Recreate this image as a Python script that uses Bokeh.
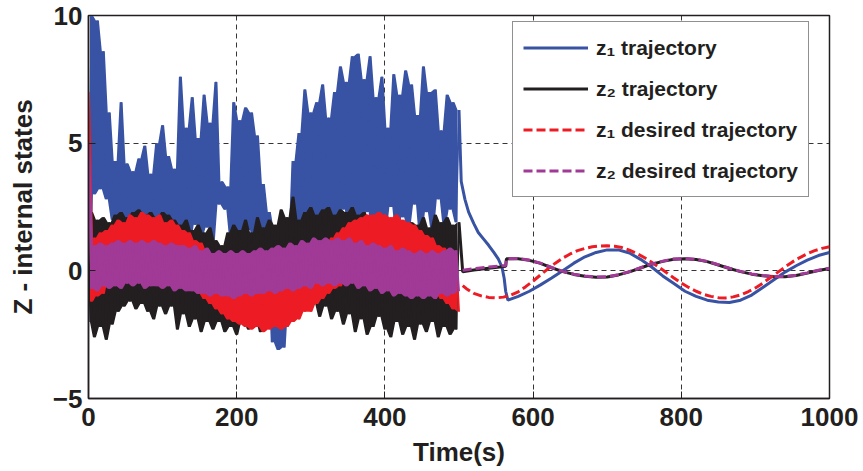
import numpy as np
from bokeh.plotting import figure
from bokeh.models import Range1d, FixedTicker, Legend, LegendItem
from bokeh.embed import file_html
from bokeh.resources import INLINE

# ---------------- data ----------------
x_ticks = [0, 200, 400, 600, 800, 1000]
y_ticks = [-5, 0, 5, 10]
noisy_step = 4  # s between samples of the noisy phase (0..500 s)

z1_noisy = [-2.0, 10.0, 3.0, 9.8, 3.2, 8.6, 2.8, 6.2, 2.0, 4.3,
            1.2, 6.6, 0.5, 4.2, 1.0, 3.9, 0.8, 4.4, 1.5, 4.9,
            0.6, 3.8, 1.2, 5.0, 0.9, 5.7, 1.4, 4.5, 0.7, 4.0,
            1.1, 7.6, 1.6, 5.6, 1.0, 6.8, 1.8, 5.2, 1.3, 6.9,
            1.7, 5.8, 1.0, 7.4, 2.6, 3.5, 2.4, 3.3, 1.2, 6.6,
            1.5, 5.9, 0.8, 6.4, 1.6, 6.2, 0.9, 5.3, 1.1, 3.4,
            0.4, 2.3, -2.8, 1.6, -3.1, 1.4, -3.0, 1.2, -1.0, 4.3,
            0.8, 5.4, 1.3, 7.1, 0.9, 6.2, 1.5, 6.6, 1.0, 7.3,
            1.8, 6.0, 2.2, 7.0, 1.4, 8.0, 2.4, 7.4, 1.2, 8.4,
            2.0, 8.5, 1.6, 7.5, 2.3, 8.4, 1.1, 6.8, 2.0, 7.6,
            1.4, 5.6, 2.5, 7.7, 1.3, 6.9, 2.1, 7.85, 1.6, 7.3,
            2.6, 6.1, 1.2, 8.0, 2.3, 7.0, 1.5, 7.1, 2.8, 5.5,
            1.7, 6.9, 2.4, 6.6, 1.9, 6.3]

z2_noisy = [-2.0, 2.3, -2.6, 2.0, -2.2, 2.1, -2.7, 1.9, -2.1, 2.2,
            -1.6, 2.3, -1.4, 2.1, -1.2, 2.3, -1.5, 2.4, -1.3, 2.2,
            -1.6, 2.3, -1.9, 2.1, -1.4, 2.3, -1.7, 2.2, -1.4, 2.0,
            -2.3, 1.8, -1.7, 2.0, -2.2, 1.6, -1.9, 1.8, -2.4, 1.5,
            -2.0, 1.7, -2.3, 1.2, -2.0, 1.0, -2.4, 1.5, -2.2, 1.8,
            -2.5, 1.6, -2.0, 2.0, -2.3, 1.5, -1.9, 2.1, -2.4, 1.7,
            -1.8, 2.0, -2.2, 1.8, -1.5, 2.4, -1.7, 2.1, -1.3, 2.9,
            -1.6, 2.0, -1.2, 2.3, -1.5, 2.5, -1.3, 2.2, -1.8, 2.4,
            -1.4, 2.5, -1.9, 2.2, -1.6, 2.4, -2.1, 2.3, -1.7, 2.5,
            -2.4, 2.2, -1.9, 2.3, -2.5, 2.0, -2.2, 2.1, -1.8, 1.9,
            -2.3, 2.0, -2.6, 1.7, -2.0, 2.0, -2.5, 1.6, -2.2, 1.9,
            -2.7, 1.8, -2.1, 2.1, -2.4, 1.7, -2.0, 2.2, -2.6, 1.9,
            -2.2, 2.1, -2.5, 1.8, -2.3, 1.9]

z1d_noisy = [7.0, -1.2, 1.3, -1.0, 1.5, -0.9, 1.6, -0.3, 1.8, -0.2,
             2.0, -0.1, 1.9, 0.2, 2.2, 0.0, 2.1, 0.3, 2.3, 0.1,
             2.2, 0.2, 2.1, 0.0, 2.2, 0.1, 1.9, -0.1, 2.0, -0.3,
             1.8, -0.2, 1.6, -0.5, 1.5, -0.7, 1.2, -0.9, 1.1, -1.1,
             0.8, -1.3, 0.6, -1.5, 0.5, -1.7, 0.2, -1.9, 0.1, -2.0,
             -0.1, -2.1, -0.3, -2.2, -0.2, -2.3, -0.4, -2.2, -0.3, -2.4,
             -0.5, -2.3, -0.3, -2.2, -0.4, -2.3, -0.2, -2.2, -0.1, -2.0,
             0.0, -1.9, 0.2, -1.6, 0.4, -1.6, 0.6, -1.3, 0.9, -1.1,
             1.0, -0.9, 1.3, -0.7, 1.5, -0.6, 1.7, -0.3, 1.9, -0.2,
             2.0, 0.0, 2.1, 0.1, 2.2, 0.0, 2.2, 0.2, 2.3, 0.1,
             2.2, 0.3, 2.1, 0.1, 2.2, 0.0, 2.0, 0.1, 1.9, -0.2,
             1.8, -0.3, 1.6, -0.6, 1.4, -0.5, 1.3, -0.9, 1.0, -1.1,
             0.9, -1.3, 0.7, -1.5, 0.6, -1.6]

z2d_noisy = [5.0, -0.7, 1.0, -0.8, 1.1, -0.6, 1.0, -0.7, 1.1, -0.6,
             1.2, -0.7, 1.1, -0.5, 1.2, -0.6, 1.1, -0.5, 1.2, -0.7,
             1.1, -0.6, 1.2, -0.6, 1.1, -0.7, 1.0, -0.6, 1.1, -0.8,
             1.0, -0.7, 1.0, -0.8, 0.9, -0.8, 1.0, -0.9, 0.8, -0.9,
             0.9, -1.0, 0.7, -0.9, 0.8, -1.0, 0.7, -1.0, 0.8, -1.1,
             0.7, -1.0, 0.8, -0.9, 0.7, -1.0, 0.8, -0.9, 0.9, -0.9,
             0.8, -0.8, 0.9, -0.9, 1.0, -0.8, 0.9, -0.7, 1.1, -0.8,
             1.0, -0.7, 1.2, -0.6, 1.1, -0.7, 1.3, -0.5, 1.2, -0.6,
             1.3, -0.5, 1.2, -0.6, 1.3, -0.5, 1.2, -0.6, 1.3, -0.5,
             1.1, -0.7, 1.2, -0.6, 1.0, -0.8, 1.1, -0.7, 1.0, -0.9,
             0.9, -0.8, 1.0, -1.0, 0.8, -0.9, 0.9, -1.0, 0.8, -1.1,
             0.7, -1.0, 0.8, -1.1, 0.7, -1.0, 0.8, -1.1, 0.7, -0.9,
             0.8, -1.0, 0.9, -0.9, 0.8, -0.8]

z1_t_after = [503, 508, 513, 520, 526, 533, 540, 547, 553, 558,
              561, 563, 566, 580, 595, 610, 625, 640, 655, 670,
              685, 700, 715, 730, 745, 760, 775, 790, 805, 820,
              835, 850, 865, 880, 895, 910, 925, 940, 955, 970,
              985, 1000]
z1_after = [3.5, 2.8, 2.3, 1.85, 1.5, 1.25, 1.0, 0.72, 0.47, 0.15,
            -0.3, -0.8, -1.15, -1.0, -0.8, -0.55, -0.28, 0.0, 0.3, 0.55,
            0.72, 0.82, 0.82, 0.7, 0.45, 0.15, -0.2, -0.5, -0.8, -1.0,
            -1.15, -1.22, -1.24, -1.15, -0.95, -0.65, -0.35, -0.05, 0.2, 0.42,
            0.6, 0.72]

z1d_t_after = [505] + list(range(510, 1001, 10))
z1d_after = [-0.58,
             -0.7, -0.88, -0.98, -1.04, -1.06, -1.03, -0.95, -0.82, -0.62, -0.4,
             -0.16, 0.08, 0.3, 0.5, 0.66, 0.79, 0.88, 0.94, 0.97, 0.98,
             0.96, 0.91, 0.81, 0.68, 0.52, 0.34, 0.14, -0.07, -0.28, -0.48,
             -0.65, -0.8, -0.92, -1.0, -1.05, -1.06, -1.02, -0.94, -0.82, -0.67,
             -0.48, -0.27, -0.06, 0.15, 0.35, 0.52, 0.67, 0.79, 0.88, 0.94]

z2_t_after = [505, 520, 540, 555, 563, 564, 580, 595, 610, 625,
              640, 655, 670, 685, 700, 715, 730, 745, 760, 775,
              790, 805, 820, 835, 850, 865, 880, 895, 910, 925,
              940, 955, 970, 985, 1000]
z2d_after = [0.02, 0.08, 0.15, 0.19, 0.21, 0.47, 0.48, 0.42, 0.3, 0.13,
             -0.02, -0.13, -0.2, -0.24, -0.23, -0.15, -0.03, 0.12, 0.27, 0.38,
             0.46, 0.48, 0.45, 0.37, 0.24, 0.1, -0.02, -0.12, -0.18, -0.22,
             -0.22, -0.17, -0.08, 0.02, 0.1]
z2_after = [-0.04, 0.03, 0.1, 0.15, 0.18, 0.47, 0.47, 0.41, 0.29, 0.12,
            -0.03, -0.14, -0.21, -0.25, -0.24, -0.16, -0.04, 0.11, 0.26, 0.37,
            0.45, 0.47, 0.44, 0.36, 0.23, 0.09, -0.03, -0.13, -0.19, -0.23,
            -0.23, -0.18, -0.09, 0.01, 0.09]

labels = ["z\u2081 trajectory", "z\u2082 trajectory",
          "z\u2081 desired trajectory", "z\u2082 desired trajectory"]

# ---------------- styling ----------------
BLUE = "#3953A4"
BLACK = "#231F20"
RED = "#ED1C24"
PURPLE = "#A03A96"
FONT = "Liberation Sans"

p = figure(width=863, height=471, x_range=Range1d(0, 1000), y_range=Range1d(-5, 10),
           output_backend="svg", toolbar_location=None,
           min_border_left=88, min_border_right=34, min_border_top=15, min_border_bottom=73)
p.background_fill_color = "white"
p.border_fill_color = "white"
p.outline_line_color = BLACK
p.outline_line_width = 1.5


def tn(vals):
    return np.arange(len(vals)) * noisy_step


def draw_noisy(vals, color):
    """Dense oscillation: fill between successive extremes, then the trace itself."""
    v = np.asarray(vals, dtype=float)
    t = tn(vals)
    xm = (t[:-1] + t[1:]) / 2.0
    upper = np.maximum(v[:-1], v[1:])
    lower = np.minimum(v[:-1], v[1:])
    p.varea(x=xm, y1=lower, y2=upper, fill_color=color, fill_alpha=1.0)
    p.line(t, v, line_color=color, line_width=2)


# noisy phase (drawn in plot order: z1, z2, z1 desired, z2 desired)
draw_noisy(z1_noisy, BLUE)
draw_noisy(z2_noisy, BLACK)
draw_noisy(z1d_noisy, RED)
draw_noisy(z2d_noisy, PURPLE)

# smooth phase
r1 = p.line([tn(z1_noisy)[-1]] + z1_t_after, [z1_noisy[-1]] + z1_after,
            line_color=BLUE, line_width=3)
r2 = p.line([tn(z2_noisy)[-1]] + z2_t_after, [z2_noisy[-1]] + z2_after,
            line_color=BLACK, line_width=3)
r3 = p.line(z1d_t_after, z1d_after, line_color=RED, line_width=3, line_dash="9 4")
r4 = p.line(z2_t_after, z2d_after, line_color=PURPLE, line_width=3, line_dash="9 4")

# axes
for ax in (p.xaxis[0], p.yaxis[0]):
    ax.major_label_text_font = FONT
    ax.major_label_text_font_style = "bold"
    ax.major_label_text_font_size = "26px"
    ax.major_label_text_color = BLACK
    ax.axis_label_text_font = FONT
    ax.axis_label_text_font_style = "bold"
    ax.axis_label_text_font_size = "26px"
    ax.axis_label_text_color = BLACK
    ax.axis_line_color = BLACK
    ax.axis_line_width = 1.5
    ax.major_tick_in = 7
    ax.major_tick_out = 0
    ax.major_tick_line_color = BLACK
    ax.minor_tick_line_color = None

p.xaxis.ticker = FixedTicker(ticks=x_ticks)
p.yaxis.ticker = FixedTicker(ticks=y_ticks)
p.xaxis.axis_label = "Time(s)"
p.yaxis.axis_label = "Z - internal states"
p.xaxis.major_label_standoff = 9
p.xaxis.axis_label_standoff = 8
p.yaxis.major_label_standoff = 6
p.yaxis.axis_label_standoff = 12

p.xgrid.ticker = FixedTicker(ticks=x_ticks)
p.ygrid.ticker = FixedTicker(ticks=y_ticks)
for g in (p.xgrid[0], p.ygrid[0]):
    g.grid_line_color = BLACK
    g.grid_line_width = 1
    g.grid_line_dash = "5 4"
    g.grid_line_alpha = 0.9

legend = Legend(items=[LegendItem(label=labels[0], renderers=[r1]),
                       LegendItem(label=labels[1], renderers=[r2]),
                       LegendItem(label=labels[2], renderers=[r3]),
                       LegendItem(label=labels[3], renderers=[r4])],
                location=(424, 201),
                label_text_font=FONT, label_text_font_style="bold",
                label_text_font_size="21px", label_text_color=BLACK,
                glyph_width=65, glyph_height=31, label_height=31,
                label_standoff=8, spacing=10, padding=10, margin=0,
                border_line_color=BLACK, border_line_width=1.5,
                background_fill_color="white", background_fill_alpha=1.0)
p.add_layout(legend)

open("out.html", "w").write(file_html(p, INLINE))
